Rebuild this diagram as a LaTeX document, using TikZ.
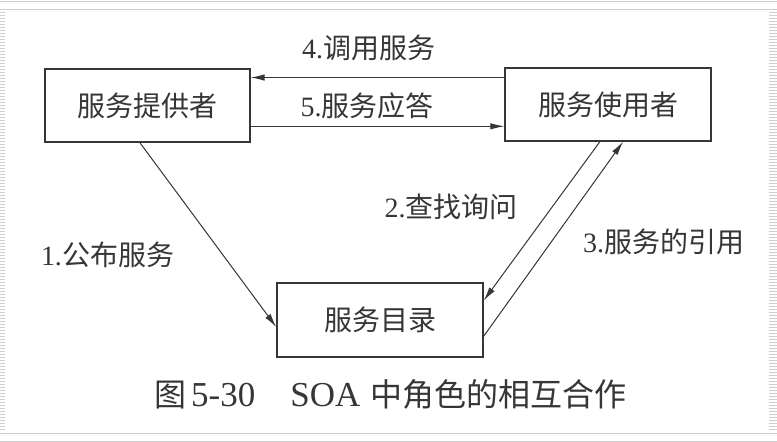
\documentclass[tikz,border=0pt]{standalone}
\usepackage{fontspec}
\setmainfont{Liberation Serif}
\newfontfamily\cjk{Noto Sans CJK SC}
\usetikzlibrary{calc,arrows.meta}
\definecolor{ink}{HTML}{363636}
\definecolor{rule}{HTML}{CFCFCF}
\tikzset{
  role/.style={draw=ink, line width=1.3pt, minimum width=205pt, minimum height=73pt,
               inner sep=0pt, text=ink, font=\fontsize{28}{30}\selectfont\cjk},
  flow/.style={draw=ink, line width=1pt, -{Latex[length=14pt,width=6.5pt]}},
  tag/.style={inner sep=0pt, text=ink, font=\fontsize{28}{30}\selectfont},
}
\begin{document}
\begin{tikzpicture}[x=1pt,y=-1pt]
  \useasboundingbox (0,0) rectangle (777,442);
  \fill[white] (0,0) rectangle (777,442);
  % frame rules and striped side strips
  \draw[rule, line width=1pt] (0,1) -- (777,1);
  \draw[rule, line width=1pt] (0,9) -- (777,9);
  \draw[rule, line width=1pt] (0,433) -- (777,433);
  \draw[rule, line width=1pt] (0,441) -- (777,441);
  \draw[rule, line width=5pt, dash pattern=on 1pt off 2pt] (2.5,12) -- (2.5,430);
  \draw[rule, line width=8pt, dash pattern=on 1pt off 2pt] (773,12) -- (773,430);

  % the three roles
  \node[role] (prov) at (147.5,105.5) {服务提供者};
  \node[role, minimum width=206pt] (user) at (608,104.5) {服务使用者};
  \node[role, minimum width=206pt, minimum height=74pt] (dir) at (380,320) {服务目录};

  % points where the connectors meet the boxes
  \coordinate (u4) at ($(user.north west)!0.137!(user.south west)$);
  \coordinate (p5) at ($(prov.north east)!0.78!(prov.south east)$);
  \coordinate (p1) at ($(prov.south west)!0.463!(prov.south east)$);
  \coordinate (d1) at ($(dir.north west)!0.595!(dir.south west)$);
  \coordinate (u2) at ($(user.south west)!0.461!(user.south east)$);
  \coordinate (d2) at ($(dir.north east)!0.243!(dir.south east)$);
  \coordinate (d3) at ($(dir.north east)!0.716!(dir.south east)$);
  \coordinate (u3) at ($(user.south west)!0.573!(user.south east)$);

  \draw[flow] (u4) -- (prov.east |- u4);
  \draw[flow] (p5) -- (user.west |- p5);
  \draw[flow] (p1) -- (d1);
  \draw[flow] (u2) -- (d2);
  \draw[flow] (d3) -- (u3);

  % connector labels
  \node[tag] (l4) at (368.5,48) {4.{\cjk 调用服务}};
  \node[tag] (l5) at (367,106) {5.{\cjk 服务应答}};
  \node[tag] (l2) at (451,207) {2.{\cjk 查找询问}};
  \node[tag] (l1) at (107.5,255) {1.{\cjk 公布服务}};
  \node[tag] (l3) at (663.5,242) {3.{\cjk 服务的引用}};

  % caption
  \node[tag, anchor=west, font=\fontsize{35}{37}\selectfont] (cap) at (154,394)
    {{\fontsize{32}{34}\selectfont\cjk 图}\hspace{5pt}5-30\hspace{35pt}SOA\hspace{10pt}{\fontsize{32}{34}\selectfont\cjk 中角色的相互合作}};
\end{tikzpicture}
\end{document}
